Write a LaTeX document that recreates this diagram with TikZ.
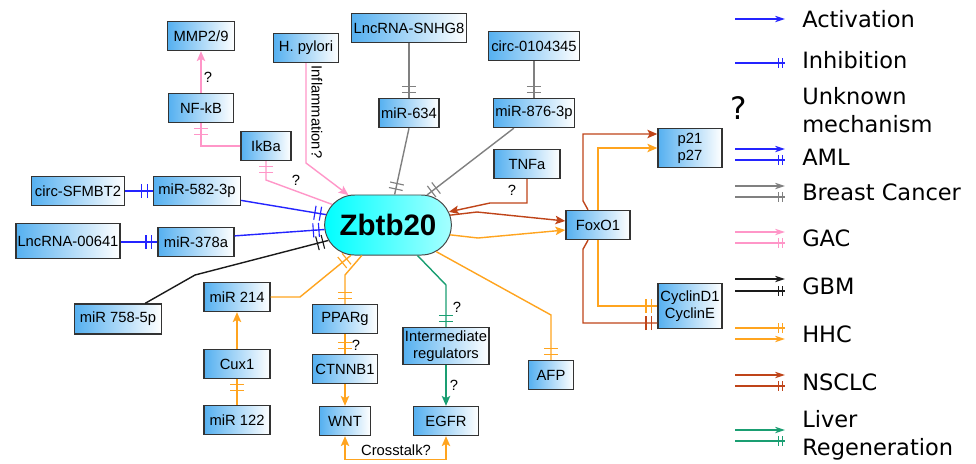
\documentclass[tikz,border=0pt]{standalone}
\usepackage{fontspec}
\setmainfont{Liberation Sans}
\newfontfamily\legendfont{DejaVu Sans}
\usetikzlibrary{arrows.meta,shapes.misc,decorations.markings}

\definecolor{boxblue}{HTML}{55B0F0}
\definecolor{boxline}{HTML}{333333}
\definecolor{amlblue}{HTML}{2424FF}
\definecolor{bcgray}{HTML}{808080}
\definecolor{gacpink}{HTML}{FF96C8}
\definecolor{gbmblack}{HTML}{1A1A1A}
\definecolor{hhcorange}{HTML}{FFA41F}
\definecolor{nsclcred}{HTML}{BF4419}
\definecolor{livgreen}{HTML}{1A9E72}

\begin{document}
\begin{tikzpicture}
    [x=0.025cm, y=-0.025cm, every node/.style={font=\fontsize{10.5}{12}\selectfont}]
    \tikzset{gene/.style = {rectangle, draw=boxline, line width=1pt, left color=boxblue, right color=white,
                            inner sep=1pt, minimum height=0.725cm, align=center},
             hub/.style = {rounded rectangle, draw=boxline!90, line width=0.7pt, left color=cyan,
                           right color=cyan!35!white, minimum width=3.4cm, minimum height=1.5cm,
                           font=\fontsize{21}{24}\bfseries},
             act/.style = {line width=1pt, -{Stealth[length=7pt,width=6pt,inset=1.5pt]}},
             inh/.style = {line width=1pt, postaction={decorate}, decoration={markings,
                           mark=at position -4pt with {\draw[line width=0.8pt] (0,-5pt) -- (0,5pt);},
                           mark=at position -8pt with {\draw[line width=0.8pt] (0,-5pt) -- (0,5pt);}}},
             leginh/.style = {line width=0.9pt, postaction={decorate}, decoration={markings,
                           mark=at position -2pt with {\draw[line width=0.7pt] (0,-3.5pt) -- (0,3.5pt);},
                           mark=at position -4.5pt with {\draw[line width=0.7pt] (0,-3.5pt) -- (0,3.5pt);}}},
             legact/.style = {line width=0.9pt, -{Stealth[length=7pt,width=4.5pt,inset=2pt]}},
             note/.style = {inner sep=1pt},
             legtext/.style = {anchor=west, inner sep=0pt, align=left,
                               font=\legendfont\fontsize{16}{20}\selectfont}}
    \useasboundingbox (0,0) rectangle (976,463);

    % genes
    \node[gene, minimum width=1.675cm] (mmp) at (201,36) {MMP2/9};
    \node[gene, minimum width=1.625cm] (nfkb) at (201,108) {NF-kB};
    \node[gene, minimum width=1.25cm] (ikba) at (266,146) {IkBa};
    \node[gene, minimum width=1.625cm] (hpyl) at (306,48) {H. pylori};
    \node[gene, minimum width=2.875cm] (snhg) at (409,28) {LncRNA-SNHG8};
    \node[gene, minimum width=2.275cm] (circb) at (534,46) {circ-0104345};
    \node[gene, minimum width=1.5cm] (mir634) at (409,113) {miR-634};
    \node[gene, minimum width=2.025cm] (mir876) at (534,113) {miR-876-3p};
    \node[gene, minimum width=1.65cm] (tnfa) at (527,164) {TNFa};
    \node[gene, minimum width=1.6cm, minimum height=0.975cm] (p21) at (690,148) {p21\\p27};
    \node[gene, minimum width=2.325cm] (sfmbt) at (78,191) {circ-SFMBT2};
    \node[gene, minimum width=2.175cm] (mir582) at (197,191) {miR-582-3p};
    \node[hub] (zb) at (388,225) {Zbtb20};
    \node[gene, minimum width=1.6cm] (fox) at (598,225) {FoxO1};
    \node[gene, minimum width=2.6cm, minimum height=0.875cm] (lnc641) at (68,241) {LncRNA-00641};
    \node[gene, minimum width=1.9cm] (mir378) at (196,242) {miR-378a};
    \node[gene, minimum width=2.175cm, minimum height=0.75cm] (mir758) at (118,319) {miR 758-5p};
    \node[gene, minimum width=1.65cm] (mir214) at (237,297) {miR 214};
    \node[gene, minimum width=1.65cm] (cux) at (237,364) {Cux1};
    \node[gene, minimum width=1.65cm] (mir122) at (237,420) {miR 122};
    \node[gene, minimum width=1.625cm] (ppar) at (345,319) {PPARg};
    \node[gene, minimum width=1.625cm] (ctnnb) at (345,369) {CTNNB1};
    \node[gene, minimum width=1.275cm] (wnt) at (345,421) {WNT};
    \node[gene, minimum width=2.15cm, minimum height=0.925cm] (inter) at (446,346) {Intermediate\\regulators};
    \node[gene, minimum width=1.625cm] (egfr) at (446,421) {EGFR};
    \node[gene, minimum width=1.125cm] (afp) at (551,375) {AFP};
    \node[gene, minimum width=1.6cm, minimum height=1.125cm] (cyc) at (690,306) {CyclinD1\\CyclinE};

    % GAC
    \draw[act, gacpink] (nfkb) -- (mmp);
    \draw[inh, gacpink] (ikba.west) -| (nfkb.south);
    \draw[inh, gacpink] (zb) -- (266,180) -- (ikba.south);
    \draw[act, gacpink] (hpyl.south) -- (306,163) -- (zb);
    % AML
    \draw[inh, amlblue] (sfmbt) -- (mir582);
    \draw[inh, amlblue] (mir582.348) -- (zb);
    \draw[inh, amlblue] (lnc641.east |- mir378) -- (mir378);
    \draw[inh, amlblue] (mir378.9) -- (zb);
    % GBM
    \draw[inh, gbmblack] (mir758.30) -- (195,275) -- (zb);
    % Breast Cancer
    \draw[inh, bcgray] (snhg) -- (mir634);
    \draw[inh, bcgray] (circb) -- (mir876);
    \draw[inh, bcgray] (mir634.south) -- (zb);
    \draw[inh, bcgray] (mir876.217) -- (zb);
    % NSCLC
    \draw[act, nsclcred] (tnfa.south) |- (490,203) -- (zb);
    \draw[act, nsclcred] (zb.9) -- (477,212) -- ([yshift=0.1cm]fox.west);
    \draw[act, nsclcred] ([xshift=-0.25cm]fox.north) -- ++(-5,-9) |- ([yshift=0.35cm]p21.west);
    \draw[inh, nsclcred] ([xshift=-0.25cm]fox.south) -- ++(-5,9) |- ([yshift=-0.425cm]cyc.west);
    % HHC
    \draw[act, hhcorange] (zb.351) -- (478,238) -- ([yshift=-0.125cm]fox.west);
    \draw[act, hhcorange] (fox.north) |- (p21.west);
    \draw[inh, hhcorange] (fox.south) |- (cyc.west);
    \draw[inh, hhcorange] (mir214.east) -- (300,297) -- (zb);
    \draw[act, hhcorange] (cux) -- (mir214);
    \draw[inh, hhcorange] (mir122) -- (cux);
    \draw[inh, hhcorange] (zb) -- (345,275) -- (ppar.north);
    \draw[inh, hhcorange] (ppar) -- (ctnnb);
    \draw[act, hhcorange] (ctnnb) -- (wnt);
    \draw[hhcorange, line width=1pt, {Stealth[length=7pt,width=6pt,inset=1.5pt]}-{Stealth[length=7pt,width=6pt,inset=1.5pt]}]
        (wnt.south) -- ++(0,23) -| (egfr.south);
    \draw[inh, hhcorange] (zb) -- (551,315) -- (afp.north);
    % Liver Regeneration
    \draw[inh, livgreen] (zb) -- (446,285) -- (inter.north);
    \draw[act, livgreen] (inter) -- (egfr);

    % labels
    \node[note] (q1) at (208,77) {?};
    \node[note] (q2) at (296,180) {?};
    \node[note, rotate=-90] (infl) at (317,112) {Inflammation?};
    \node[note] (q3) at (512,190) {?};
    \node[note] (q4) at (356,345) {?};
    \node[note] (q5) at (457,307) {?};
    \node[note] (q6) at (454,385) {?};
    \node[note] (xtalk) at (396,450) {Crosstalk?};

    % legend
    \foreach \ypos/\col/\tip in {19/amlblue/legact, 63/amlblue/leginh, 149/amlblue/legact, 160/amlblue/leginh,
                                 186/bcgray/legact, 197/bcgray/leginh, 232/gacpink/legact, 243/gacpink/leginh,
                                 279/gbmblack/legact, 291/gbmblack/leginh, 328/hhcorange/leginh, 339/hhcorange/legact,
                                 375/nsclcred/legact, 386/nsclcred/leginh, 430/livgreen/legact, 441/livgreen/leginh}
    {
        \coordinate (ls\ypos) at (735,\ypos);
        \coordinate (le\ypos) at (785,\ypos);
        \draw[\tip, \col] (ls\ypos) -- (le\ypos);
    }
    \node[legtext] (lact) at (802,19) {Activation};
    \node[legtext] (linh) at (802,60) {Inhibition};
    \node[legtext, anchor=center, font=\legendfont\fontsize{22}{24}\selectfont] (lq) at (739,108) {?};
    \node[legtext] (lunk) at (802,110) {Unknown\\mechanism};
    \node[legtext] (laml) at (802,157) {AML};
    \node[legtext] (lbc) at (802,192) {Breast Cancer};
    \node[legtext] (lgac) at (802,238) {GAC};
    \node[legtext] (lgbm) at (802,286) {GBM};
    \node[legtext] (lhhc) at (802,334) {HHC};
    \node[legtext] (lnsc) at (802,382) {NSCLC};
    \node[legtext] (lliv) at (802,435) {Liver\\Regeneration};
\end{tikzpicture}
\end{document}
